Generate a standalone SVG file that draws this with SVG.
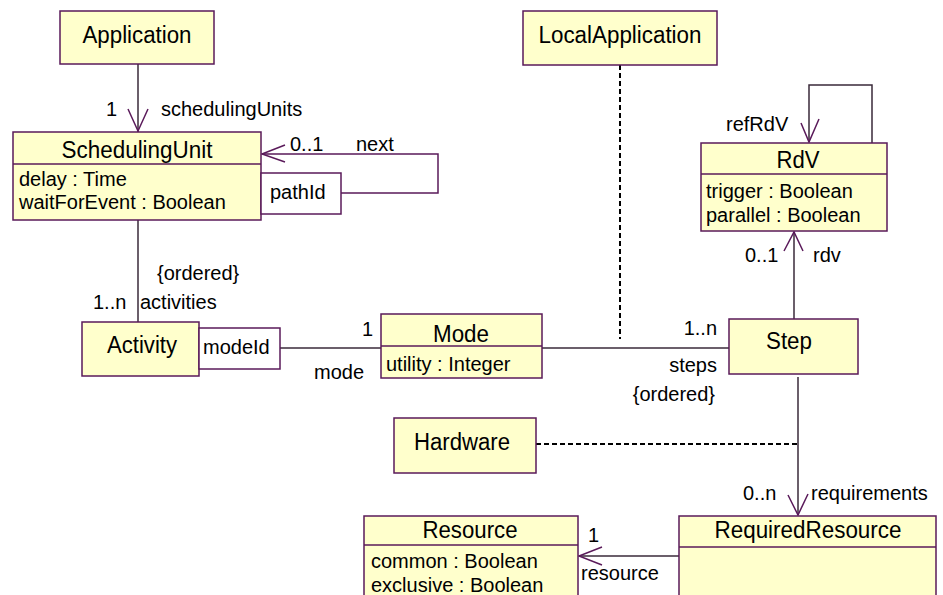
<svg xmlns="http://www.w3.org/2000/svg" width="943" height="595" viewBox="0 0 943 595">
<style>
.box{fill:#ffffcc;stroke:#5a1a5a;stroke-width:1.5}
.qual{fill:#ffffff;stroke:#5a1a5a;stroke-width:1.5}
.div{stroke:#5a1a5a;stroke-width:1.5}
.name{font-family:"Liberation Sans",Arial,sans-serif;font-size:23px;fill:#000;text-anchor:middle}
.attr{font-family:"Liberation Sans",Arial,sans-serif;font-size:20px;fill:#000}
.lbl{font-family:"Liberation Sans",Arial,sans-serif;font-size:20px;fill:#000}
.end{text-anchor:end}
.line{fill:none;stroke:#3a2a3a;stroke-width:1.5}
.pline{fill:none;stroke:#5a1a5a;stroke-width:1.5}
.arrow{fill:none;stroke:#5a1a5a;stroke-width:1.5}
.dash{fill:none;stroke:#000;stroke-width:2;stroke-dasharray:5,3}
</style>
<rect width="943" height="595" fill="#ffffff"/>
<g id="connectors">
<line class="line" x1="138" y1="64" x2="138" y2="132"/>
<polyline class="arrow" points="128,109 138,131 148,109"/>
<polyline class="pline" points="341,193 438,193 438,154 262,154"/>
<polyline class="arrow" points="285,145 262,154 285,162"/>
<line class="line" x1="138" y1="220" x2="138" y2="322"/>
<line class="line" x1="280" y1="348" x2="381" y2="348"/>
<line class="line" x1="542" y1="348" x2="729" y2="348"/>
<line class="dash" x1="620" y1="65" x2="620" y2="339"/>
<line class="line" x1="794" y1="319" x2="794" y2="232"/>
<polyline class="arrow" points="784,251 794,232 803,251"/>
<polyline class="line" points="872,143 872,85 809,85 809,142"/>
<polyline class="arrow" points="801,123 809,142 819,119"/>
<line class="line" x1="798" y1="377" x2="798" y2="515"/>
<polyline class="arrow" points="788,495 798,515 808,494"/>
<line class="dash" x1="536" y1="444" x2="798" y2="444"/>
<line class="line" x1="679" y1="556" x2="579" y2="556"/>
<polyline class="arrow" points="602,547 579,556 602,565"/>
<text class="lbl" x="106" y="116">1</text>
<text class="lbl" x="161" y="116">schedulingUnits</text>
<text class="lbl" x="290" y="151">0..1</text>
<text class="lbl" x="356" y="151">next</text>
<text class="lbl" x="157" y="280">{ordered}</text>
<text class="lbl" x="93" y="309">1..n</text>
<text class="lbl" x="140" y="309">activities</text>
<text class="lbl" x="362" y="336">1</text>
<text class="lbl" x="314" y="379">mode</text>
<text class="lbl end" x="717" y="335">1..n</text>
<text class="lbl end" x="717" y="372">steps</text>
<text class="lbl end" x="715" y="401">{ordered}</text>
<text class="lbl" x="726" y="131">refRdV</text>
<text class="lbl" x="745" y="262">0..1</text>
<text class="lbl" x="813" y="262">rdv</text>
<text class="lbl" x="743" y="500">0..n</text>
<text class="lbl" x="811" y="500">requirements</text>
<text class="lbl" x="588" y="542">1</text>
<text class="lbl" x="581" y="580">resource</text>
</g>
<g id="Application">
<rect class="box" x="60" y="11" width="154" height="53"/>
<text class="name" x="137" y="43" textLength="109" lengthAdjust="spacingAndGlyphs">Application</text>
</g>
<g id="LocalApplication">
<rect class="box" x="523" y="11" width="194" height="54"/>
<text class="name" x="620" y="43" textLength="163" lengthAdjust="spacingAndGlyphs">LocalApplication</text>
</g>
<g id="SchedulingUnit">
<rect class="box" x="13" y="132" width="248" height="88"/>
<line class="div" x1="13" y1="164" x2="261" y2="164"/>
<text class="name" x="137" y="158" textLength="151" lengthAdjust="spacingAndGlyphs">SchedulingUnit</text>
<text class="attr" x="19" y="186">delay : Time</text>
<text class="attr" x="19" y="209">waitForEvent : Boolean</text>
</g>
<g id="pathId">
<rect class="qual" x="261" y="173" width="80" height="41"/>
<text class="lbl" x="270" y="199">pathId</text>
</g>
<g id="RdV">
<rect class="box" x="701" y="143" width="186" height="88"/>
<line class="div" x1="701" y1="174" x2="887" y2="174"/>
<text class="name" x="798" y="168" textLength="43" lengthAdjust="spacingAndGlyphs">RdV</text>
<text class="attr" x="706" y="198">trigger : Boolean</text>
<text class="attr" x="706" y="222">parallel : Boolean</text>
</g>
<g id="Activity">
<rect class="box" x="82" y="322" width="117" height="54"/>
<text class="name" x="142" y="353" textLength="70" lengthAdjust="spacingAndGlyphs">Activity</text>
</g>
<g id="modeId">
<rect class="qual" x="199" y="328" width="81" height="41"/>
<text class="lbl" x="203" y="354">modeId</text>
</g>
<g id="Mode">
<rect class="box" x="381" y="314" width="161" height="64"/>
<line class="div" x1="381" y1="346" x2="542" y2="346"/>
<text class="name" x="461" y="342" textLength="56" lengthAdjust="spacingAndGlyphs">Mode</text>
<text class="attr" x="386" y="371">utility : Integer</text>
</g>
<g id="Step">
<rect class="box" x="729" y="319" width="129" height="55"/>
<text class="name" x="789" y="349" textLength="46" lengthAdjust="spacingAndGlyphs">Step</text>
</g>
<g id="Hardware">
<rect class="box" x="394" y="418" width="142" height="55"/>
<text class="name" x="462" y="450" textLength="96" lengthAdjust="spacingAndGlyphs">Hardware</text>
</g>
<g id="Resource">
<rect class="box" x="364" y="516" width="214" height="90"/>
<line class="div" x1="364" y1="545" x2="578" y2="545"/>
<text class="name" x="470" y="538" textLength="95" lengthAdjust="spacingAndGlyphs">Resource</text>
<text class="attr" x="371" y="568">common : Boolean</text>
<text class="attr" x="371" y="592">exclusive : Boolean</text>
</g>
<g id="RequiredResource">
<rect class="box" x="679" y="516" width="257" height="90"/>
<line class="div" x1="679" y1="547" x2="936" y2="547"/>
<text class="name" x="808" y="538" textLength="187" lengthAdjust="spacingAndGlyphs">RequiredResource</text>
</g>
</svg>
